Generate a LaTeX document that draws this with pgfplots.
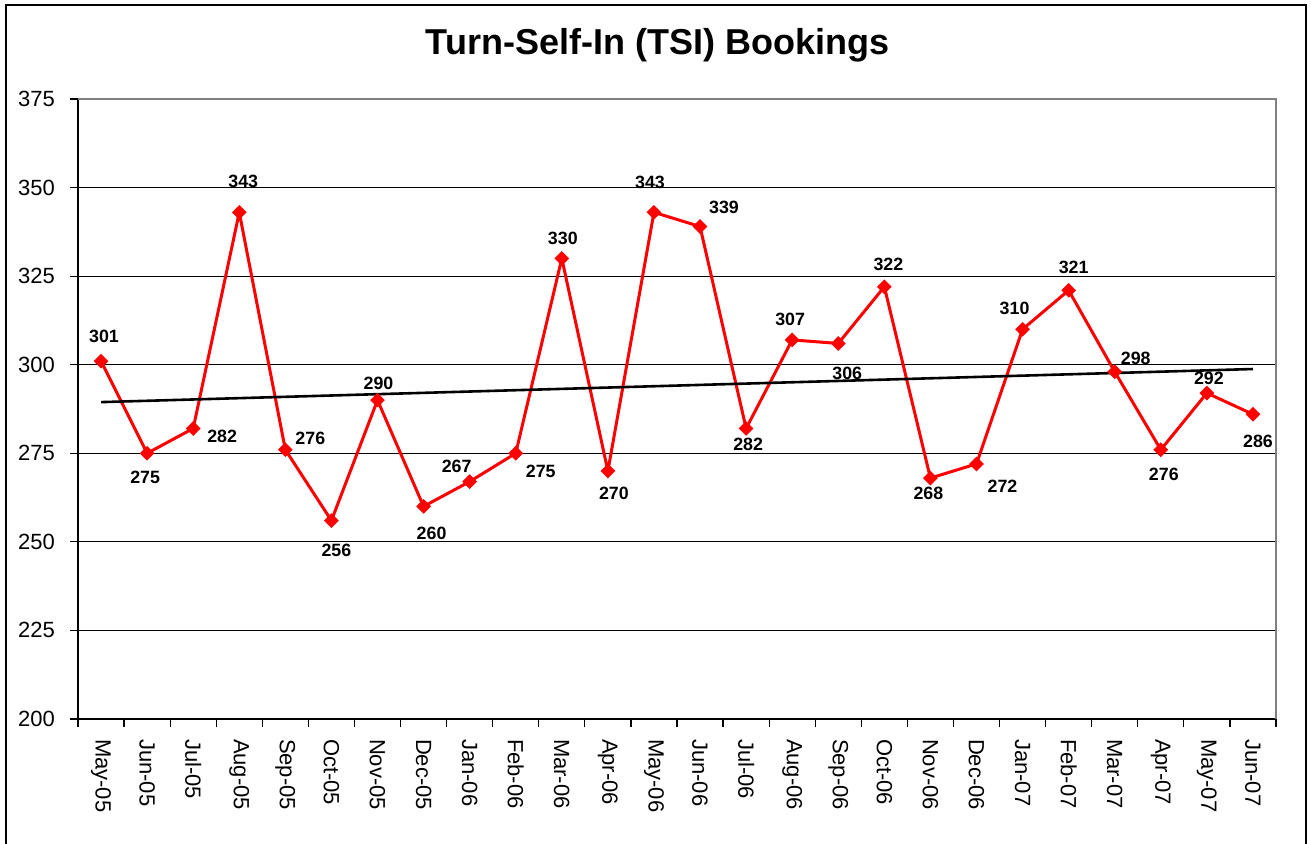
\documentclass[border=0pt]{standalone}
\usepackage{pgfplots}
\pgfplotsset{compat=1.18}
\usepackage{pgfplotstable}
\usepackage{fontspec}
\setmainfont{Liberation Sans}

\pgfplotstableread{
x y dx dy
0 301 1.5 12.5
1 275 -1 -12
2 282 14.5 -4
3 343 2 15.5
4 276 12.5 5.5
5 256 2.5 -15
6 290 0.5 8.5
7 260 4 -13.5
8 267 -6.5 7.5
9 275 12.5 -9
10 330 0.5 10
11 270 3 -11
12 343 -2 15
13 339 12 9.5
14 282 1 -8
15 307 -1 10.5
16 306 4.5 -15
17 322 2 11
18 268 -1 -7.5
19 272 13 -11
20 310 -4 10.5
21 321 2.5 11.5
22 298 10.5 6.5
23 276 1.5 -12.5
24 292 1 7.5
25 286 2.5 -13.5
}\tsidata

\begin{document}
\begin{tikzpicture}
\useasboundingbox (0,0) rectangle (655.5pt,422pt);
\draw[line width=1pt] (3pt,-2pt) -- (3pt,419.5pt) -- (652.8pt,419.5pt) -- (652.8pt,-2pt);
\begin{axis}[
  at={(39pt,62.5pt)}, anchor=south west,
  scale only axis, width=599pt, height=310pt,
  xmin=-0.5, xmax=25.5, ymin=200, ymax=375,
  axis x line*=bottom, axis y line*=left,
  axis line style={black, line width=0.6pt},
  clip=false,
  /pgf/number format/assume math mode=true,
  xtick={0,...,25},
  xticklabels={May-05,Jun-05,Jul-05,Aug-05,Sep-05,Oct-05,Nov-05,Dec-05,Jan-06,Feb-06,Mar-06,Apr-06,May-06,Jun-06,Jul-06,Aug-06,Sep-06,Oct-06,Nov-06,Dec-06,Jan-07,Feb-07,Mar-07,Apr-07,May-07,Jun-07},
  minor xtick={-0.5,0.5,...,25.5},
  every major x tick/.append style={draw=none},
  ytick={200,225,...,375},
  tick align=outside,
  major tick length=4pt, minor tick length=4pt,
  tick style={black, line width=0.6pt},
  ymajorgrids, grid style={black, line width=0.5pt},
  xticklabel style={yshift=-2.5pt, rotate=-90, anchor=west, font=\fontsize{11}{13}\selectfont},
  yticklabel style={xshift=-4pt, font=\fontsize{11}{13}\selectfont},
  title={Turn-Self-In (TSI) Bookings},
  title style={font=\fontsize{18}{21}\selectfont\bfseries, at={(axis description cs:0.4837,1.0516)}, anchor=base},
]
\draw[gray, line width=0.8pt] (rel axis cs:0,1) -- (rel axis cs:1,1) -- (rel axis cs:1,0);
\addplot[red, line width=1.5pt, mark=square*, mark size=2.4pt,
  mark options={rotate=45, fill=red, draw=red, line width=0.4pt},
  visualization depends on={\thisrow{dx} \as \labdx},
  visualization depends on={\thisrow{dy} \as \labdy},
  nodes near coords={\pgfmathprintnumber{\pgfplotspointmeta}},
  every node near coord/.append style={anchor=center, black, inner sep=0pt,
    font=\fontsize{8.9}{10}\selectfont\bfseries, xshift=\labdx pt, yshift=\labdy pt},
] table[x=x, y=y] {\tsidata};
\addplot[black, line width=1.3pt] coordinates {(0,289.44) (25,298.78)};
\end{axis}
\end{tikzpicture}
\end{document}
